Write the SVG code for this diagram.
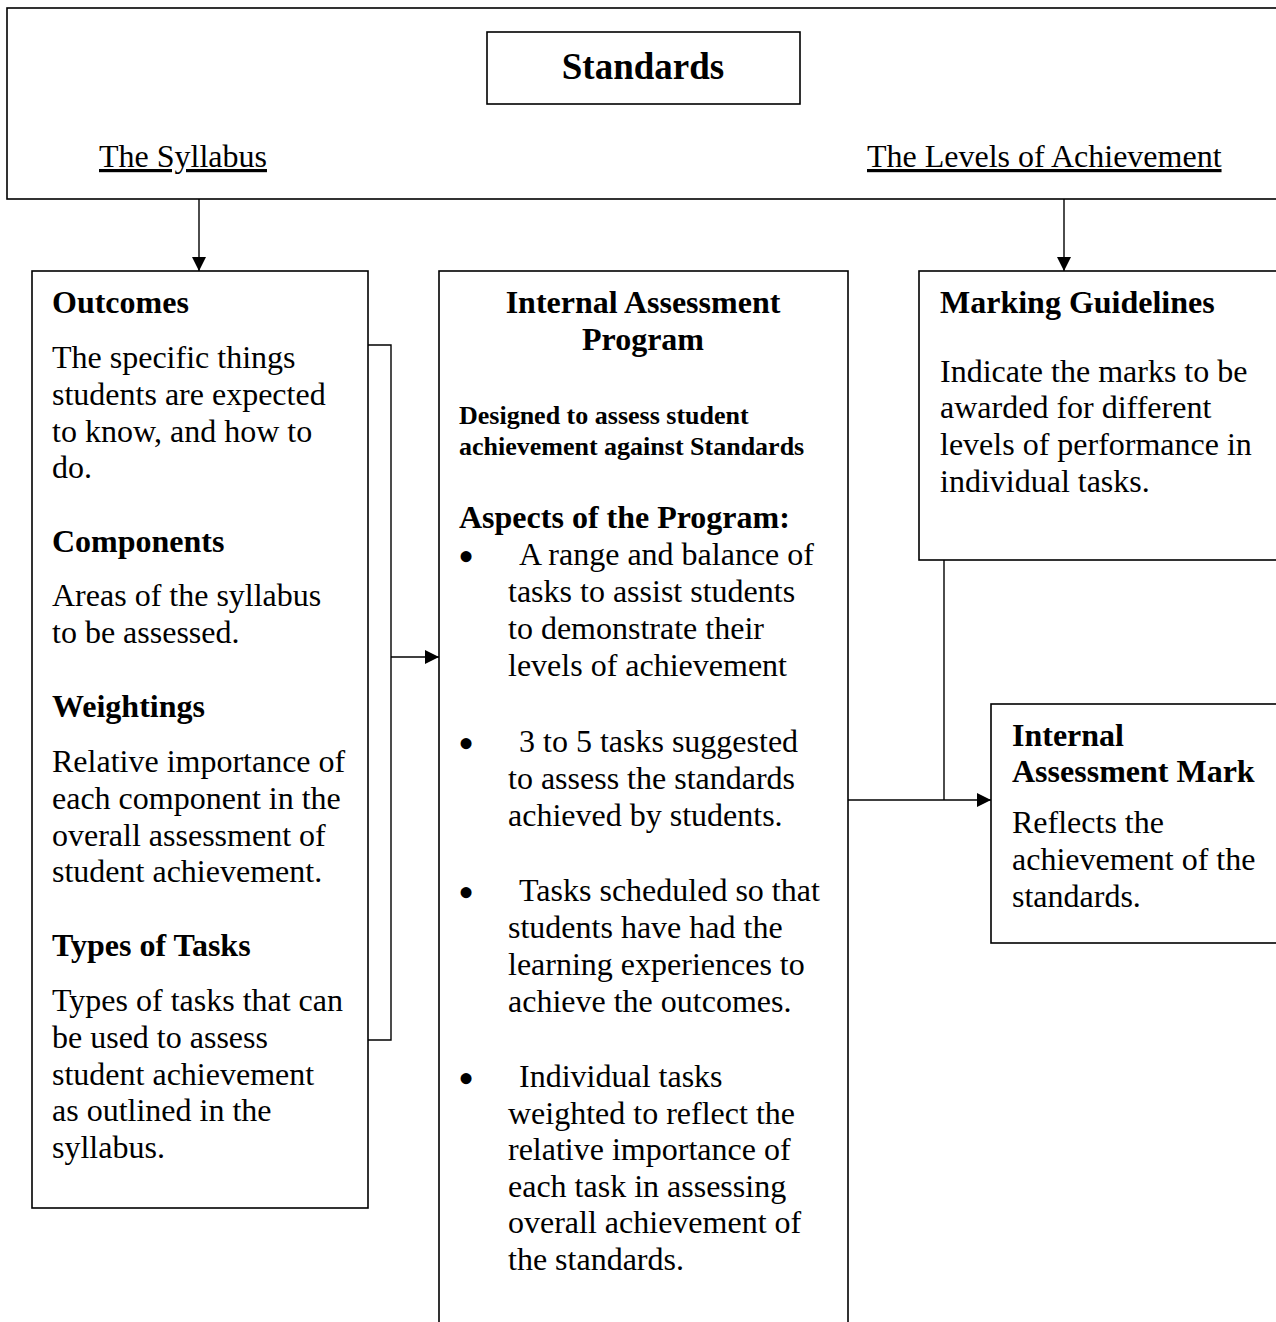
<svg xmlns="http://www.w3.org/2000/svg" width="1276" height="1322" viewBox="0 0 1276 1322">
<defs>
<style>
text{font-family:"Liberation Serif","Times New Roman",serif;fill:#000;font-size:32px}
.b{font-weight:bold}
.s{font-size:26px;font-weight:bold}
.t{font-size:37px;font-weight:bold}
.u{text-decoration:underline}
.bl{font-size:46px}
.box{fill:#fff;stroke:#000;stroke-width:1.6}
.ln{fill:none;stroke:#000;stroke-width:1.4}
</style>
<marker id="ah" viewBox="0 0 14 14" refX="14" refY="7" markerWidth="14" markerHeight="14" markerUnits="userSpaceOnUse" orient="auto">
<path d="M0,0 L14,7 L0,14 Z" fill="#000"/>
</marker>
</defs>
<rect width="1276" height="1322" fill="#fff"/>

<g id="frame">
<rect class="box" x="7" y="8" width="1280" height="191"/>
</g>

<g id="standards">
<rect class="box" x="487" y="32" width="313" height="72"/>
<text class="t" x="643" y="79" text-anchor="middle">Standards</text>
</g>
<g id="syllabus-label">
<text class="u" x="99" y="167">The Syllabus</text>
</g>
<g id="levels-label">
<text class="u" x="867" y="167">The Levels of Achievement</text>
</g>

<g id="connectors">
<line class="ln" x1="199" y1="199" x2="199" y2="271" marker-end="url(#ah)"/>
<line class="ln" x1="1064" y1="199" x2="1064" y2="271" marker-end="url(#ah)"/>
<polyline class="ln" points="368,345 391,345 391,1040 368,1040"/>
<line class="ln" x1="391" y1="657" x2="439" y2="657" marker-end="url(#ah)"/>
<line class="ln" x1="944" y1="560" x2="944" y2="800"/>
<line class="ln" x1="848" y1="800" x2="991" y2="800" marker-end="url(#ah)"/>
</g>

<g id="outcomes">
<rect class="box" x="32" y="271" width="336" height="937"/>
<text class="b" x="52" y="313">Outcomes</text>
<text x="52" y="368">The specific things</text>
<text x="52" y="405">students are expected</text>
<text x="52" y="442">to know, and how to</text>
<text x="52" y="478">do.</text>
<text class="b" x="52" y="552">Components</text>
<text x="52" y="606">Areas of the syllabus</text>
<text x="52" y="643">to be assessed.</text>
<text class="b" x="52" y="717">Weightings</text>
<text x="52" y="772">Relative importance of</text>
<text x="52" y="809">each component in the</text>
<text x="52" y="846">overall assessment of</text>
<text x="52" y="882">student achievement.</text>
<text class="b" x="52" y="956">Types of Tasks</text>
<text x="52" y="1011">Types of tasks that can</text>
<text x="52" y="1048">be used to assess</text>
<text x="52" y="1085">student achievement</text>
<text x="52" y="1121">as outlined in the</text>
<text x="52" y="1158">syllabus.</text>
</g>

<g id="program">
<rect class="box" x="439" y="271" width="409" height="1080"/>
<text class="b" x="643" y="313" text-anchor="middle">Internal Assessment</text>
<text class="b" x="643" y="350" text-anchor="middle">Program</text>
<text class="s" x="459" y="424">Designed to assess student</text>
<text class="s" x="459" y="455">achievement against Standards</text>
<text class="b" x="459" y="528">Aspects of the Program:</text>
<text class="bl" x="458" y="572">•</text>
<text x="519" y="565">A range and balance of</text>
<text x="508" y="602">tasks to assist students</text>
<text x="508" y="639">to demonstrate their</text>
<text x="508" y="676">levels of achievement</text>
<text class="bl" x="458" y="759">•</text>
<text x="519" y="752">3 to 5 tasks suggested</text>
<text x="508" y="789">to assess the standards</text>
<text x="508" y="826">achieved by students.</text>
<text class="bl" x="458" y="908">•</text>
<text x="519" y="901">Tasks scheduled so that</text>
<text x="508" y="938">students have had the</text>
<text x="508" y="975">learning experiences to</text>
<text x="508" y="1012">achieve the outcomes.</text>
<text class="bl" x="458" y="1094">•</text>
<text x="519" y="1087">Individual tasks</text>
<text x="508" y="1124">weighted to reflect the</text>
<text x="508" y="1160">relative importance of</text>
<text x="508" y="1197">each task in assessing</text>
<text x="508" y="1233">overall achievement of</text>
<text x="508" y="1270">the standards.</text>
</g>

<g id="marking">
<rect class="box" x="919" y="271" width="370" height="289"/>
<text class="b" x="940" y="313">Marking Guidelines</text>
<text x="940" y="382">Indicate the marks to be</text>
<text x="940" y="418">awarded for different</text>
<text x="940" y="455">levels of performance in</text>
<text x="940" y="492">individual tasks.</text>
</g>

<g id="mark">
<rect class="box" x="991" y="704" width="300" height="239"/>
<text class="b" x="1012" y="746">Internal</text>
<text class="b" x="1012" y="782">Assessment Mark</text>
<text x="1012" y="833">Reflects the</text>
<text x="1012" y="870">achievement of the</text>
<text x="1012" y="907">standards.</text>
</g>
</svg>
